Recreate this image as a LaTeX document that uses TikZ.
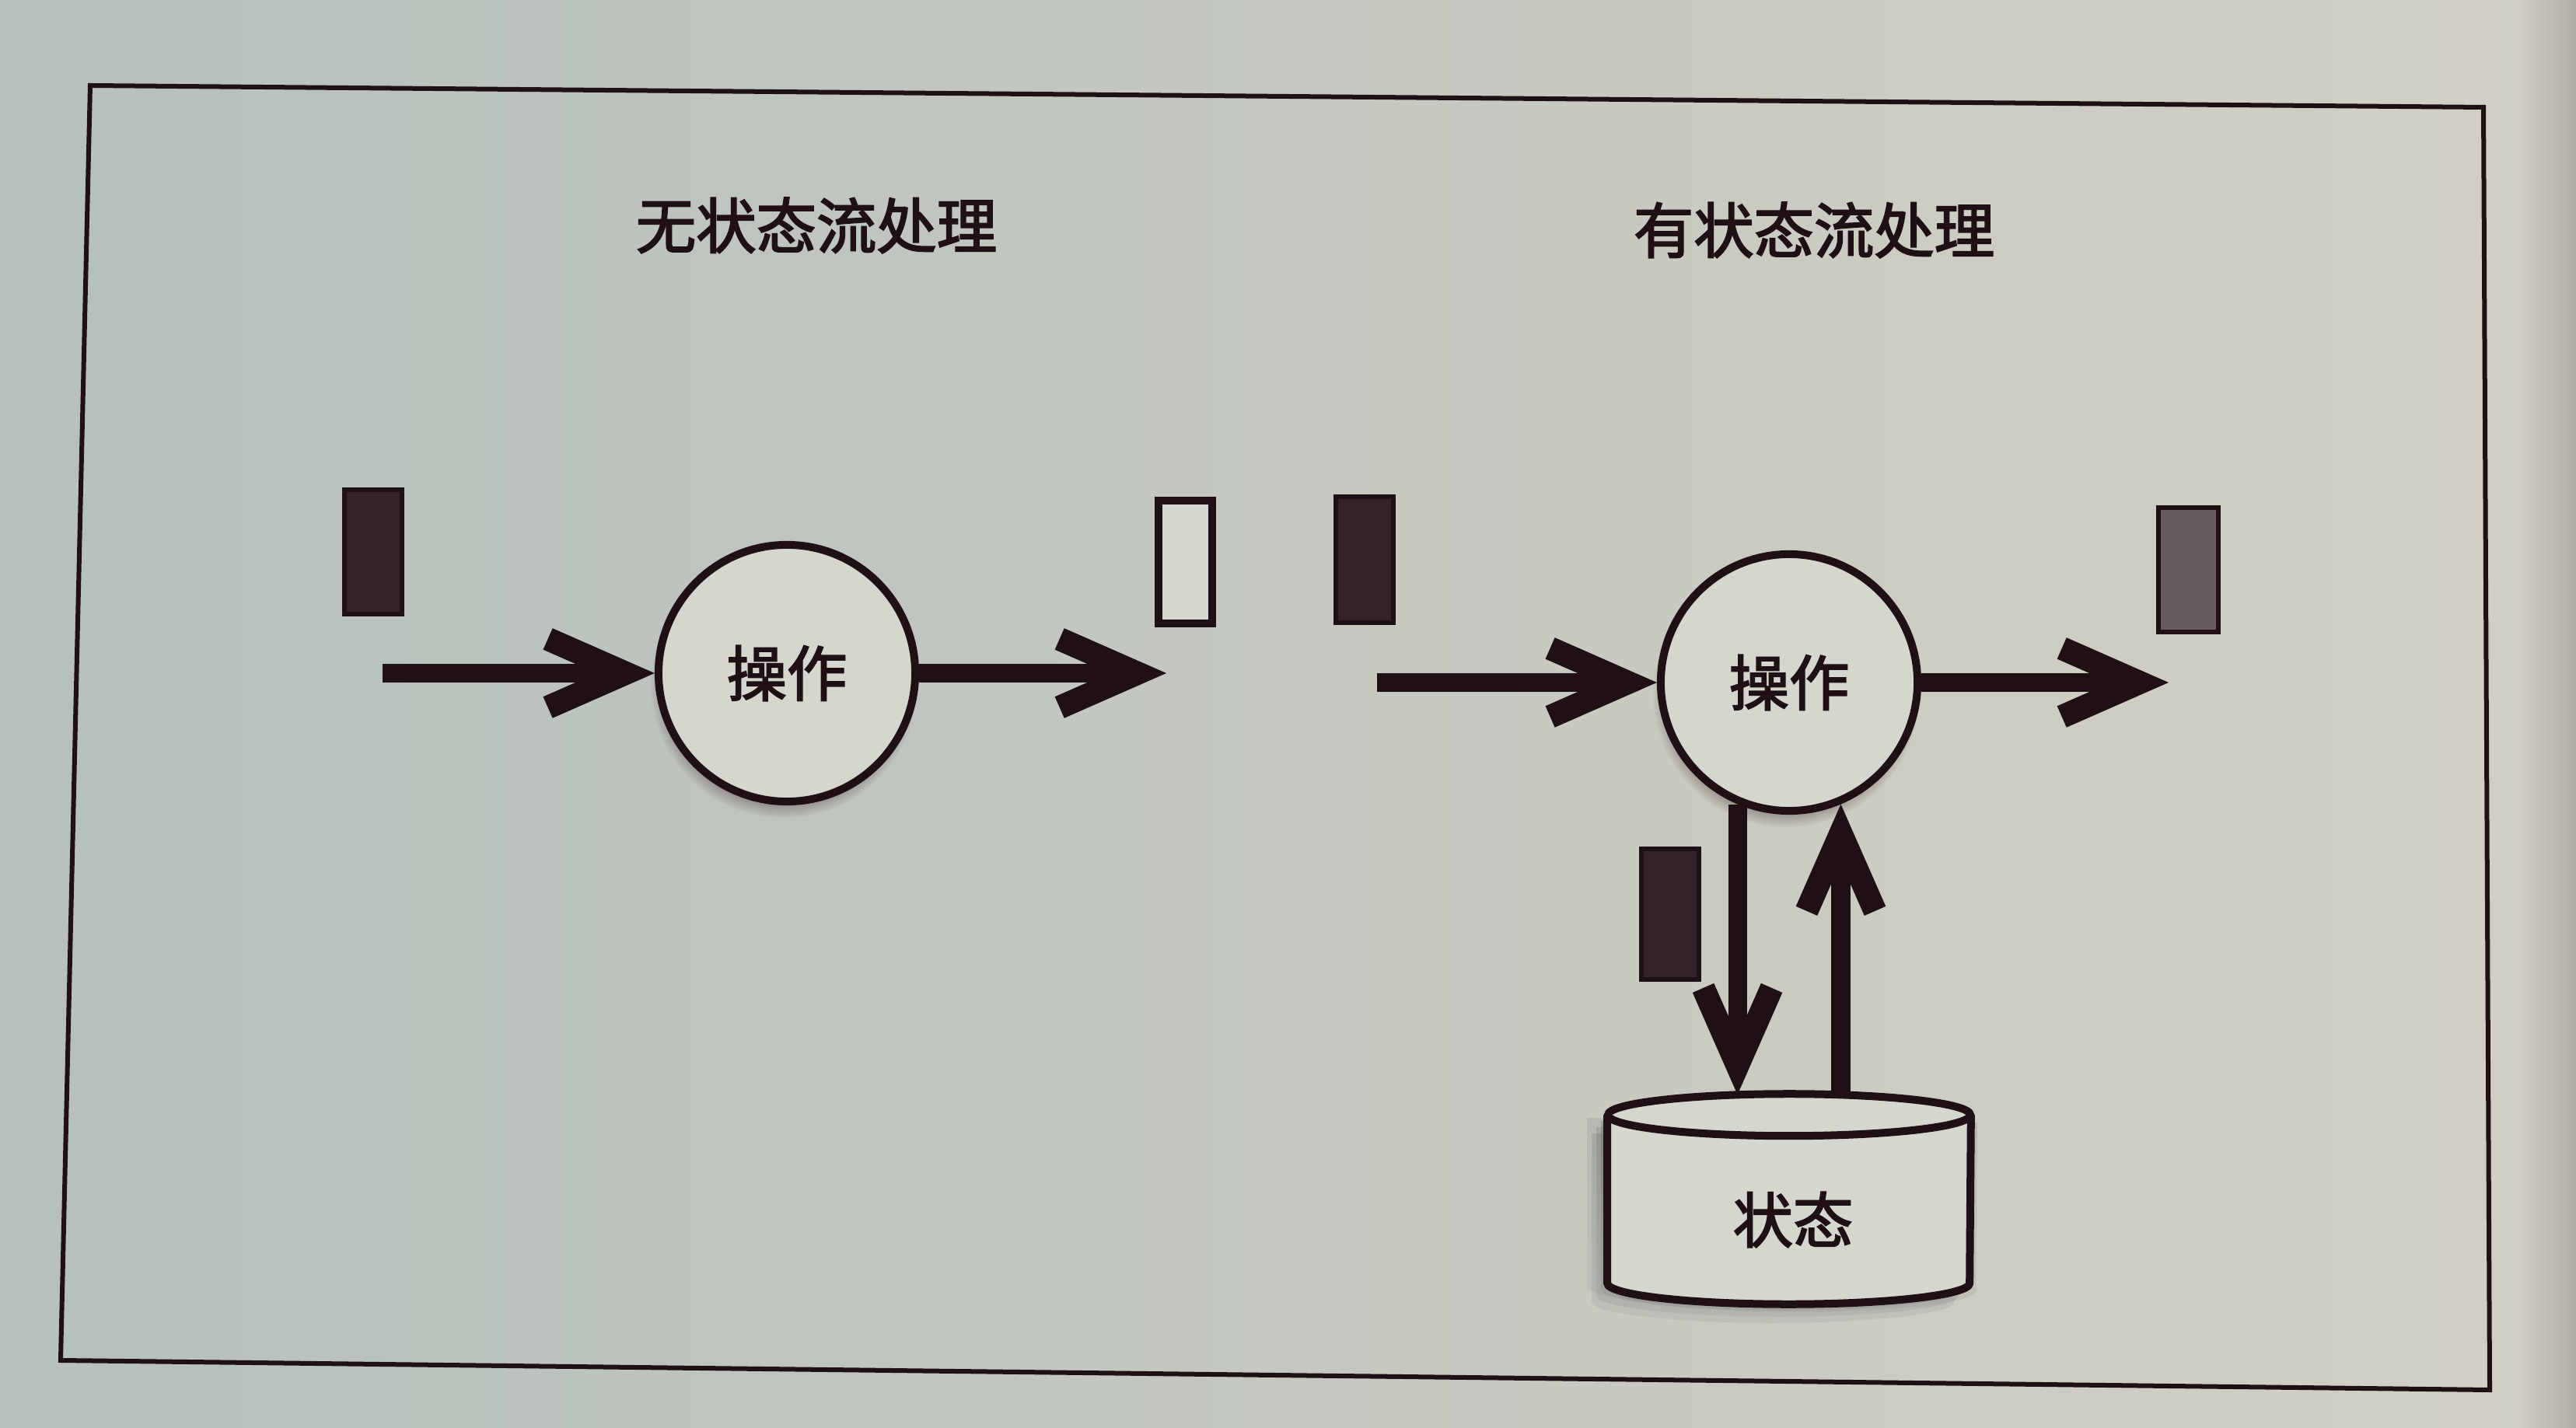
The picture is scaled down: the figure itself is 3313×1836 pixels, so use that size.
\documentclass[tikz,border=0pt]{standalone}
\usepackage{fontspec}
\newfontfamily\cjk{Noto Sans CJK SC}[FakeBold=2.5]
\usetikzlibrary{arrows.meta,shadows,calc,fadings}

\definecolor{ink}{RGB}{30,16,20}
\definecolor{blockfill}{RGB}{50,36,40}
\definecolor{greyfill}{RGB}{102,92,96}
\definecolor{disc}{RGB}{212,215,205}
\definecolor{paperL}{RGB}{182,192,188}
\definecolor{paperR}{RGB}{210,208,196}
\definecolor{edgeB}{RGB}{176,174,164}
\definecolor{shade}{RGB}{60,32,38}

\tikzset{
  frame/.style={draw=ink, line width=0.06cm},
  heading/.style={font=\cjk\fontsize{22pt}{26pt}\selectfont, text=ink, inner sep=0},
  opnode/.style={circle, draw=ink, line width=0.1cm, fill=disc, minimum size=3.3cm,
    inner sep=0, text=ink, font=\cjk\fontsize{22pt}{26pt}\selectfont,
    circular drop shadow={shadow scale=1.04, shadow xshift=-0.04cm, shadow yshift=-0.14cm,
      opacity=0.45, fill=shade}},
  record/.style={rectangle, inner sep=0, line width=0.06cm, draw=ink,
    minimum width=0.73cm, minimum height=1.6cm},
  darkrec/.style={record, fill=blockfill},
  emptyrec/.style={record, fill=disc, line width=0.1cm},
  greyrec/.style={record, fill=greyfill},
  flow/.style={draw=ink, line width=0.24cm,
    -{Straight Barb[length=1.0cm,width=0.88cm,line width=0.3cm]}},
  cyl/.style={draw=ink, line width=0.1cm},
  cyltext/.style={font=\cjk\fontsize{22pt}{26pt}\selectfont, text=ink, inner sep=0},
}

\begin{document}
\begin{tikzpicture}[x=0.01cm,y=0.01cm]
\useasboundingbox (0,0) rectangle (3313,1836);

% paper
\shade[left color=paperL, right color=paperR] (0,0) rectangle (3313,1836);
\shade[left color=paperR, right color=edgeB] (3236,0) rectangle (3313,1836);

% outer frame
\draw[frame] (116,1726) -- (3194,1698) -- (3202,48) -- (78,86) -- cycle;

% headings
\node[heading] (tL) at (1050,1546) {无状态流处理};
\node[heading] (tR) at (2333,1540) {有状态流处理};

% ---- stateless processing ----
\node[opnode] (opL) at (1012,970) {操作};
\node[darkrec]  (inRecL)  at (480,1126)  {};
\node[emptyrec, minimum width=0.69cm, minimum height=1.57cm] (outRecL) at (1524,1113) {};
\coordinate (srcL) at (492,970);
\coordinate (dstL) at (1500,970);
\draw[flow] (srcL) -- (opL);
\draw[flow] (opL) -- (dstL);

% ---- stateful processing ----
\node[opnode] (opR) at (2301,958) {操作};
\node[darkrec, minimum width=0.74cm, minimum height=1.61cm] (inRecR) at (1755,1116) {};
\node[greyrec, minimum width=0.77cm] (outRecR) at (2814,1103) {};
\node[darkrec, minimum width=0.74cm, minimum height=1.67cm] (stRec) at (2148,660) {};
\coordinate (srcR) at (1771,958);
\coordinate (dstR) at (2789,958);
\draw[flow] (srcR) -- (opR);
\draw[flow] (opR) -- (dstR);

% state store (cylinder)
\node[inner sep=0, minimum width=4.66cm, minimum height=2.15cm] (store) at (2301,293.5) {};
\foreach \dx/\dy/\op in {-8/-8/0.12, -14/-16/0.09, -20/-24/0.07, 8/-10/0.07, -26/-4/0.06}{
  \fill[shade, opacity=\op] ([xshift=\dx*0.01cm, yshift=\dy*0.01cm]store.north west)
    -- ([xshift=\dx*0.01cm, yshift=\dy*0.01cm]store.south west)
    arc[start angle=180, end angle=360, x radius=233, y radius=27]
    -- ([xshift=\dx*0.01cm, yshift=\dy*0.01cm]store.north east) -- cycle;
}
\fill[disc] (store.north west) -- (store.south west)
  arc[start angle=180, end angle=360, x radius=233, y radius=27]
  -- (store.north east) arc[start angle=0, end angle=180, x radius=233, y radius=27] -- cycle;
\draw[cyl] (store.north west) -- (store.south west)
  arc[start angle=180, end angle=360, x radius=233, y radius=27] -- (store.north east);
\draw[cyl] (store.north) ellipse [x radius=233, y radius=27];
\node[cyltext] (stateLabel) at (2306,267) {状态};

\draw[flow] (opR.247) -- ($(opR.247 |- store.north)+(0,26)$);
\draw[flow] ($(opR.293 |- store.north)+(0,26)$) -- (opR.293);
\end{tikzpicture}
\end{document}
